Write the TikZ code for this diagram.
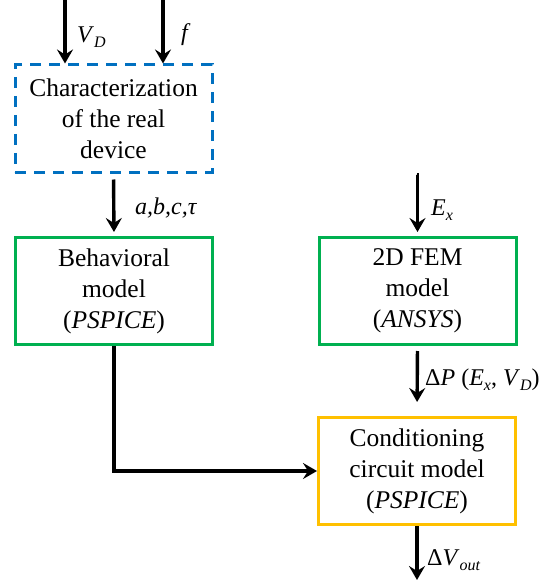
\documentclass[tikz,border=0pt]{standalone}
\usepackage{fontspec}
\setmainfont{Liberation Serif}
\usetikzlibrary{arrows.meta}

\definecolor{devblue}{RGB}{0,112,192}
\definecolor{modgreen}{RGB}{0,176,80}
\definecolor{circorange}{RGB}{255,192,0}

\newcommand{\var}[2]{\textit{#1}\raisebox{-0.45ex}{\fontsize{16}{16}\selectfont\textit{#2}}}

\tikzset{
	block/.style={draw, line width=3pt, minimum width=197pt, minimum height=107pt,
		align=center, font=\fontsize{25.5}{31}\selectfont, inner sep=0pt},
	flow/.style={line width=3.4pt, -{Stealth[length=14pt,width=16pt,inset=5pt]}},
	lbl/.style={anchor=west, font=\fontsize{24}{26}\selectfont, inner sep=0pt}
}

\begin{document}
\begin{tikzpicture}[x=1pt, y=-1pt]
	\useasboundingbox (0,0) rectangle (543,580);

	\node[block, dashed, dash pattern=on 11pt off 8pt, devblue, text=black] (char) at (113.5,118.5) {Characterization\\of the real\\device};
	\node[block, modgreen, text=black] (beh) at (114,291) {Behavioral\\model\\(\textit{PSPICE})};
	\node[block, modgreen, text=black] (fem) at (417.5,291) {2D FEM\\model\\(\textit{ANSYS})};
	\node[block, circorange, text=black] (cond) at (417,471) {Conditioning\\circuit model\\(\textit{PSPICE})};

	\coordinate (vdin) at (65,0);
	\coordinate (fin) at (163,0);
	\coordinate (exin) at (417,175);
	\coordinate (outend) at (417,580);

	% inputs of the characterization
	\draw[flow] (vdin) -- (vdin |- char.north);
	\draw[flow] (fin) -- (fin |- char.north);
	\node[lbl] (vdlbl) at (77,37) {\var{V}{D}};
	\node[lbl] (flbl) at (181,35) {\textit{f}};

	% parameters
	\draw[flow, shorten <=6pt, shorten >=4pt] (char.south) -- (beh.north);
	\node[lbl] (parlbl) at (135,208) {\textit{a,b,c,τ}};

	% FEM branch
	\draw[flow, shorten >=4pt] (exin) -- (exin -| fem.north) -- (fem.north);
	\node[lbl] (exlbl) at (431,210) {\var{E}{x}};
	\draw[flow, shorten <=5pt, shorten >=14pt] (fem.south) -- (cond.north);
	\node[lbl] (dplbl) at (425,380) {Δ\textit{P} (\var{E}{x}, \var{V}{D})};

	% to the conditioning circuit
	\draw[flow] (beh.south) |- (cond.west);
	\draw[flow] (cond.south) -- (outend);
	\node[lbl] (outlbl) at (427,560) {Δ\var{V}{out}};
\end{tikzpicture}
\end{document}
